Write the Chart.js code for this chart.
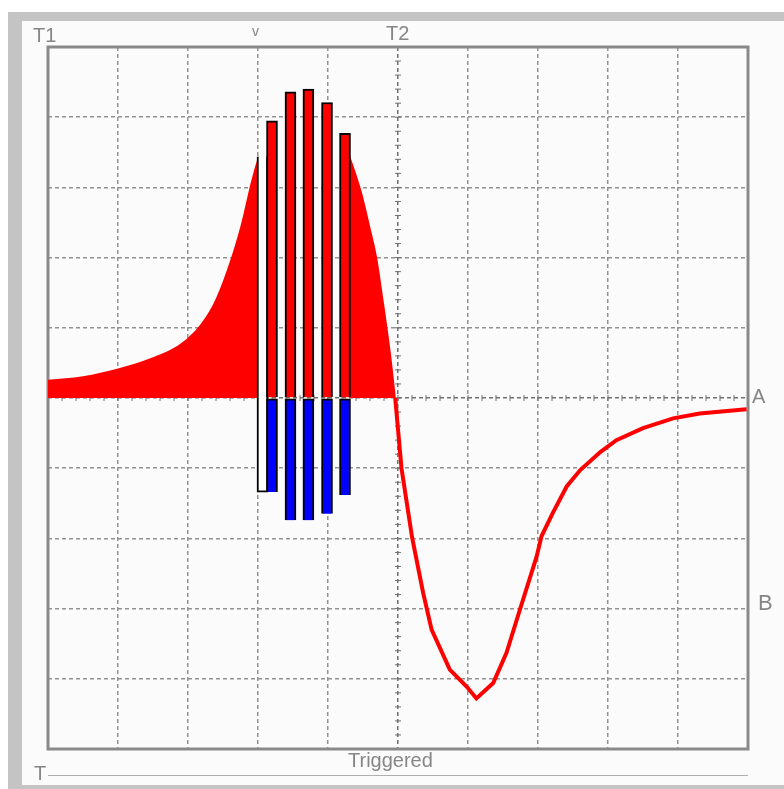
<!DOCTYPE html>
<html>
<head>
<meta charset="utf-8">
<script src="https://cdn.jsdelivr.net/npm/chart.js@4"></script>
<style>
    html, body { margin: 0; padding: 0; background: #ffffff; }
    body { width: 784px; height: 789px; position: relative; overflow: hidden; font-family: "Liberation Sans", Arial, sans-serif; }
    .frame { position: absolute; left: 8px; top: 12px; width: 776px; height: 777px; background: #c4c4c4; }
    .panel { position: absolute; left: 22px; top: 21px; width: 762px; height: 764px; background: #fbfbfb; }
    .lbl { position: absolute; color: #868686; font-size: 20px; line-height: 1; white-space: nowrap; }
    .rule { position: absolute; left: 48px; top: 775px; width: 700px; height: 1px; background: #b0b0b0; }
    #wrap { position: absolute; left: 0; top: 0; width: 784px; height: 789px; }
</style>
</head>
<body>
<div class="frame"></div>
<div class="panel"></div>
<div class="rule"></div>
<div id="wrap"><canvas id="scope"></canvas></div>
<span class="lbl" style="left:33px;top:25px;">T1</span>
<span class="lbl" style="left:252px;top:24px;font-size:14px;">v</span>
<span class="lbl" style="left:386px;top:23px;">T2</span>
<span class="lbl" style="left:752px;top:386px;">A</span>
<span class="lbl" style="left:758px;top:592px;font-size:22px;">B</span>
<span class="lbl" style="left:348px;top:750px;">Triggered</span>
<span class="lbl" style="left:34px;top:763px;">T</span>
<script>
// 波形数据（单位：格，x 0..10，y -5..5）

// 正半周左侧填充段
var fillLeftX = [0, 0.5, 1.0, 1.5, 1.9, 2.2, 2.4, 2.6, 2.75, 2.9, 3.0];
var fillLeftY = [0.26, 0.31, 0.42, 0.58, 0.78, 1.08, 1.42, 1.95, 2.45, 3.08, 3.44];

// 正半周右侧填充段
var fillRightX = [4.31, 4.4, 4.5, 4.6, 4.7, 4.8, 4.9, 4.97];
var fillRightY = [3.46, 3.2, 2.87, 2.45, 2.01, 1.35, 0.62, 0.0];

// 负半周红色曲线
var tailX = [4.96, 5.05, 5.20, 5.36, 5.48, 5.74, 5.98, 6.12, 6.36, 6.55, 6.74, 6.98, 7.05, 7.21, 7.41, 7.60, 7.89, 8.12, 8.50, 8.93, 9.31, 9.98];
var tailY = [0.0, -1.00, -1.98, -2.78, -3.30, -3.87, -4.11, -4.28, -4.06, -3.63, -3.02, -2.26, -1.97, -1.64, -1.26, -1.03, -0.77, -0.60, -0.43, -0.29, -0.22, -0.16];

// 采样柱（上红下蓝）
var barX = [3.2, 3.464, 3.72, 3.986, 4.243];
var barTop = [3.95, 4.36, 4.40, 4.21, 3.77];
var barBottom = [-1.34, -1.74, -1.74, -1.65, -1.38];

// 第一根柱左侧的白色遮挡条
var maskX = [3.064];
var maskTop = [3.44];
var maskBottom = [-1.34];

// 坐标范围
var xMin = 0, xMax = 10;
var yMin = -5, yMax = 5;

(function () {
    'use strict';

    var RED = '#ff0000';
    var BLUE = '#0000ff';
    var GRID = '#929292';
    var GRID_CENTER = '#707070';

    function zipPoints(xs, ys) {
        var out = [];
        for (var i = 0; i < xs.length; i++) {
            out.push({ x: xs[i], y: ys[i] });
        }
        return out;
    }

    function floatBars(xs, lo, hi) {
        var out = [];
        for (var i = 0; i < xs.length; i++) {
            out.push({ x: xs[i], y: [lo[i], hi[i]] });
        }
        return out;
    }

    function zeros(n) {
        var out = [];
        for (var i = 0; i < n; i++) out.push(0);
        return out;
    }

    // 外框 + 中心十字线上的细刻度
    var scopeFrame = {
        id: 'scopeFrame',
        beforeDatasetsDraw: function (chart) {
            var ctx = chart.ctx;
            var a = chart.chartArea;
            var xs = chart.scales.x;
            var ys = chart.scales.y;
            var cx = xs.getPixelForValue((xMin + xMax) / 2);
            var cy = ys.getPixelForValue(0);
            ctx.save();
            ctx.strokeStyle = GRID_CENTER;
            ctx.lineWidth = 1;
            var i, p;
            for (i = 0; i <= (xMax - xMin) * 5; i++) {
                p = xs.getPixelForValue(xMin + i / 5);
                ctx.beginPath();
                ctx.moveTo(p, cy - 3);
                ctx.lineTo(p, cy + 3);
                ctx.stroke();
            }
            for (i = 0; i <= (yMax - yMin) * 5; i++) {
                p = ys.getPixelForValue(yMin + i / 5);
                ctx.beginPath();
                ctx.moveTo(cx - 3, p);
                ctx.lineTo(cx + 3, p);
                ctx.stroke();
            }
            ctx.strokeStyle = '#8a8a8a';
            ctx.lineWidth = 3;
            ctx.strokeRect(a.left, a.top, a.right - a.left, a.bottom - a.top);
            ctx.restore();
        }
    };

    var canvas = document.getElementById('scope');
    new Chart(canvas.getContext('2d'), {
        type: 'bar',
        data: {
            datasets: [
                {
                    label: 'pos',
                    data: floatBars(barX, zeros(barX.length), barTop),
                    backgroundColor: RED,
                    borderColor: '#000000',
                    borderWidth: 2,
                    borderSkipped: 'bottom',
                    barThickness: 11,
                    grouped: false,
                    order: 1
                },
                {
                    label: 'neg',
                    data: floatBars(barX, barBottom, zeros(barX.length)),
                    backgroundColor: BLUE,
                    borderColor: '#000000',
                    borderWidth: 2,
                    borderSkipped: 'top',
                    barThickness: 11,
                    grouped: false,
                    order: 1
                },
                {
                    label: 'mask',
                    data: floatBars(maskX, maskBottom, maskTop),
                    backgroundColor: '#ffffff',
                    borderColor: '#000000',
                    borderWidth: 2,
                    borderSkipped: 'top',
                    barThickness: 11,
                    grouped: false,
                    order: 2
                },
                {
                    type: 'line',
                    label: 'tail',
                    data: zipPoints(tailX, tailY),
                    borderColor: RED,
                    borderWidth: 4,
                    pointRadius: 0,
                    tension: 0,
                    fill: false,
                    order: 3
                },
                {
                    type: 'line',
                    label: 'fillLeft',
                    data: zipPoints(fillLeftX, fillLeftY),
                    borderColor: 'rgba(0,0,0,0)',
                    borderWidth: 0,
                    backgroundColor: RED,
                    pointRadius: 0,
                    cubicInterpolationMode: 'monotone',
                    fill: 'origin',
                    order: 4
                },
                {
                    type: 'line',
                    label: 'fillRight',
                    data: zipPoints(fillRightX, fillRightY),
                    borderColor: 'rgba(0,0,0,0)',
                    borderWidth: 0,
                    backgroundColor: RED,
                    pointRadius: 0,
                    cubicInterpolationMode: 'monotone',
                    fill: 'origin',
                    order: 4
                }
            ]
        },
        options: {
            responsive: true,
            maintainAspectRatio: false,
            animation: false,
            events: [],
            layout: { padding: { left: 48, right: 36, top: 47, bottom: 40 } },
            plugins: {
                legend: { display: false },
                tooltip: { enabled: false }
            },
            scales: {
                x: {
                    type: 'linear',
                    min: xMin,
                    max: xMax,
                    offset: false,
                    ticks: { display: false, stepSize: 1 },
                    grid: {
                        offset: false,
                        drawTicks: false,
                        lineWidth: 1.5,
                        color: function (c) {
                            return c.tick && c.tick.value === 5 ? GRID_CENTER : GRID;
                        }
                    },
                    border: { display: false, dash: [4, 3] }
                },
                y: {
                    type: 'linear',
                    min: yMin,
                    max: yMax,
                    ticks: { display: false, stepSize: 1 },
                    grid: {
                        drawTicks: false,
                        lineWidth: 1.5,
                        color: function (c) {
                            return c.tick && c.tick.value === 0 ? GRID_CENTER : GRID;
                        }
                    },
                    border: { display: false, dash: [4, 3] }
                }
            }
        },
        plugins: [scopeFrame]
    });
})();
</script>
</body>
</html>
